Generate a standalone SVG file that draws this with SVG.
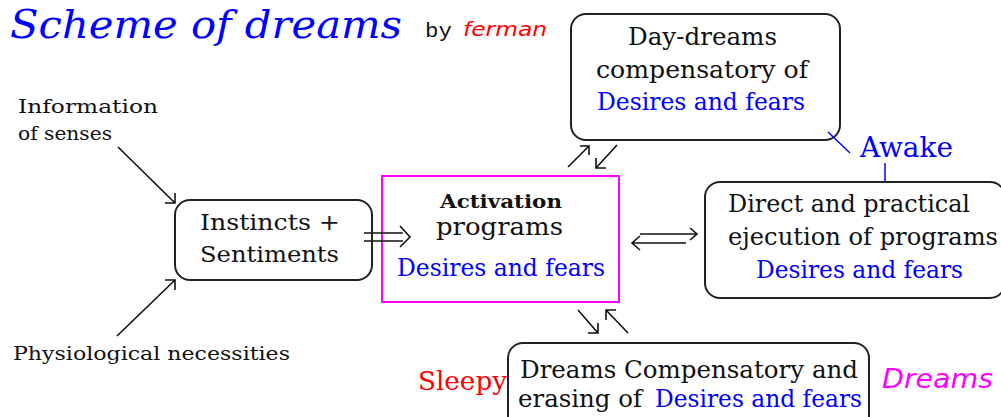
<svg xmlns="http://www.w3.org/2000/svg" width="1001" height="417" viewBox="0 0 1001 417">
<defs>
<style>
.box{fill:none;stroke:#222;stroke-width:2}
.ln{stroke:#111;stroke-width:1.6;fill:none}
.bl{stroke:#0000ff;stroke-width:1.5;fill:none}
.t{font-family:"DejaVu Serif",serif;fill:#111}
.b{fill:#0000ff}
.r{fill:#ff0000}
</style>
</defs>
<rect width="1001" height="417" fill="#fff"/>
<g id="title">
<text x="10" y="38" font-family="DejaVu Serif,serif" font-style="italic" font-size="40" fill="#0000ff" textLength="392" lengthAdjust="spacingAndGlyphs">Scheme of dreams</text>
<text x="425" y="37" font-family="Liberation Mono,monospace" font-size="20" fill="#111" textLength="27" lengthAdjust="spacingAndGlyphs">by</text>
<text x="463" y="36" font-family="DejaVu Sans,sans-serif" font-style="italic" font-size="19" fill="#ff0000" textLength="84" lengthAdjust="spacingAndGlyphs">ferman</text>
</g>
<g id="senses">
<text class="t" x="18" y="113" font-size="19" textLength="140" lengthAdjust="spacingAndGlyphs">Information</text>
<text class="t" x="18" y="140" font-size="19" textLength="94" lengthAdjust="spacingAndGlyphs">of senses</text>
</g>
<g id="physio">
<text class="t" x="13" y="360" font-size="19" textLength="277" lengthAdjust="spacingAndGlyphs">Physiological necessities</text>
</g>
<g id="instincts">
<rect class="box" x="175" y="200" width="197" height="80" rx="15"/>
<text class="t" x="200" y="230" font-size="23" textLength="140" lengthAdjust="spacingAndGlyphs">Instincts +</text>
<text class="t" x="200" y="262" font-size="23" textLength="139" lengthAdjust="spacingAndGlyphs">Sentiments</text>
</g>
<g id="activation">
<rect x="382" y="176" width="237" height="126" fill="none" stroke="#ff00ff" stroke-width="2"/>
<text class="t" x="440" y="208" font-size="19" font-weight="bold" textLength="122" lengthAdjust="spacingAndGlyphs">Activation</text>
<text class="t" x="436" y="235" font-size="24" textLength="127" lengthAdjust="spacingAndGlyphs">programs</text>
<text class="t b" x="397" y="276" font-size="24" textLength="208" lengthAdjust="spacingAndGlyphs">Desires and fears</text>
</g>
<g id="daydreams">
<rect class="box" x="571" y="14" width="269" height="126" rx="15"/>
<text class="t" x="628" y="45" font-size="24" textLength="149" lengthAdjust="spacingAndGlyphs">Day-dreams</text>
<text class="t" x="596" y="78" font-size="24" textLength="212" lengthAdjust="spacingAndGlyphs">compensatory of</text>
<text class="t b" x="597" y="110" font-size="24" textLength="208" lengthAdjust="spacingAndGlyphs">Desires and fears</text>
</g>
<g id="direct">
<rect class="box" x="705" y="182" width="300" height="116" rx="15"/>
<text class="t" x="728" y="212" font-size="24" textLength="242" lengthAdjust="spacingAndGlyphs">Direct and practical</text>
<text class="t" x="728" y="245" font-size="24" textLength="270" lengthAdjust="spacingAndGlyphs">ejecution of programs</text>
<text class="t b" x="756" y="278" font-size="24" textLength="207" lengthAdjust="spacingAndGlyphs">Desires and fears</text>
</g>
<g id="dreams">
<rect class="box" x="508" y="343" width="361" height="90" rx="15"/>
<text class="t" x="520" y="378" font-size="24" textLength="338" lengthAdjust="spacingAndGlyphs">Dreams Compensatory and</text>
<text class="t" x="518" y="407" font-size="24" textLength="124" lengthAdjust="spacingAndGlyphs">erasing of</text>
<text class="t b" x="655" y="407" font-size="24" textLength="207" lengthAdjust="spacingAndGlyphs">Desires and fears</text>
</g>
<g id="labels">
<text class="t r" x="418" y="390" font-size="26" textLength="89" lengthAdjust="spacingAndGlyphs">Sleepy</text>
<text x="882" y="388" font-family="DejaVu Sans,sans-serif" font-style="italic" font-size="26" fill="#ff00ff" textLength="111" lengthAdjust="spacingAndGlyphs">Dreams</text>
<text class="t b" x="860" y="157" font-size="27" textLength="93" lengthAdjust="spacingAndGlyphs">Awake</text>
</g>
<g id="connectors">
<path class="ln" d="M118 147 L175 203 M165 203 H175 V193"/>
<path class="ln" d="M117 336 L175 280 M165 280 H175 V290"/>
<path class="ln" d="M364 233 H403 M364 241 H403 M400 226 L410 237 L400 247"/>
<path class="ln" d="M640 234 H697 M690 228 L697 234 L690 240 M686 243 H632 M640 236 L632 243 L640 250"/>
<path class="ln" d="M568 167 L589 146 M580 146 H589 V155"/>
<path class="ln" d="M617 145 L596 168 M596 158 V168 H606"/>
<path class="ln" d="M578 310 L598 333 M598 323 V333 H588"/>
<path class="ln" d="M628 333 L606 310 M606 320 V310 H616"/>
<path class="bl" d="M828 132 L850 153 M885 163 V182"/>
</g>
</svg>
